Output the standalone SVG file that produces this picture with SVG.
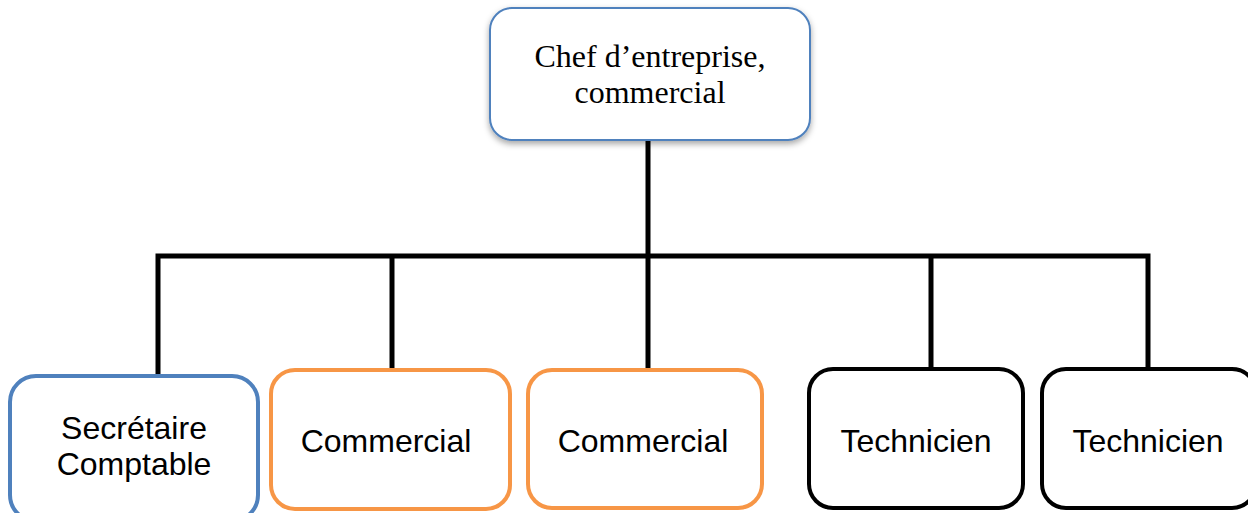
<svg xmlns="http://www.w3.org/2000/svg" width="1248" height="513" viewBox="0 0 1248 513">
<defs>
<style>
.box{fill:#fff;stroke-width:4}
.blue{stroke:#4F81BD}
.orange{stroke:#F79646}
.black{stroke:#000}
.sans{font-family:"Liberation Sans",Arial,sans-serif;font-size:32px;fill:#000;text-anchor:middle}
.serif{font-family:"Liberation Serif","Times New Roman",serif;font-size:32px;fill:#000;text-anchor:middle}
.conn{stroke:#000;stroke-width:5;fill:none}
</style>
<filter id="sh" x="-10%" y="-10%" width="120%" height="130%">
<feDropShadow dx="0" dy="3" stdDeviation="3" flood-color="#000" flood-opacity="0.35"/>
</filter>
</defs>
<rect width="1248" height="513" fill="#fff"/>
<g id="connectors">
<line class="conn" x1="648" y1="140" x2="648" y2="369"/>
<polyline class="conn" points="158,375 158,256 1148,256 1148,369"/>
<line class="conn" x1="392" y1="256" x2="392" y2="369"/>
<line class="conn" x1="931" y1="256" x2="931" y2="369"/>
</g>
<g id="chef">
<rect x="490" y="8" width="320" height="132" rx="22" fill="#fff" stroke="#4F81BD" stroke-width="2" filter="url(#sh)"/>
<text class="serif" x="650" y="67">Chef d’entreprise,</text>
<text class="serif" x="650" y="103">commercial</text>
</g>
<g id="secretaire">
<rect class="box blue" x="10" y="376" width="248" height="145" rx="26"/>
<text class="sans" x="134" y="439">Secrétaire</text>
<text class="sans" x="134" y="475">Comptable</text>
</g>
<g id="commercial1">
<rect class="box orange" x="271" y="370" width="239" height="139" rx="24"/>
<text class="sans" x="386" y="452">Commercial</text>
</g>
<g id="commercial2">
<rect class="box orange" x="528" y="370" width="234" height="138" rx="24"/>
<text class="sans" x="643" y="452">Commercial</text>
</g>
<g id="technicien1">
<rect class="box black" x="809" y="369" width="214" height="139" rx="24"/>
<text class="sans" x="916" y="452">Technicien</text>
</g>
<g id="technicien2">
<rect class="box black" x="1042" y="369" width="214" height="139" rx="24"/>
<text class="sans" x="1148" y="452">Technicien</text>
</g>
</svg>
